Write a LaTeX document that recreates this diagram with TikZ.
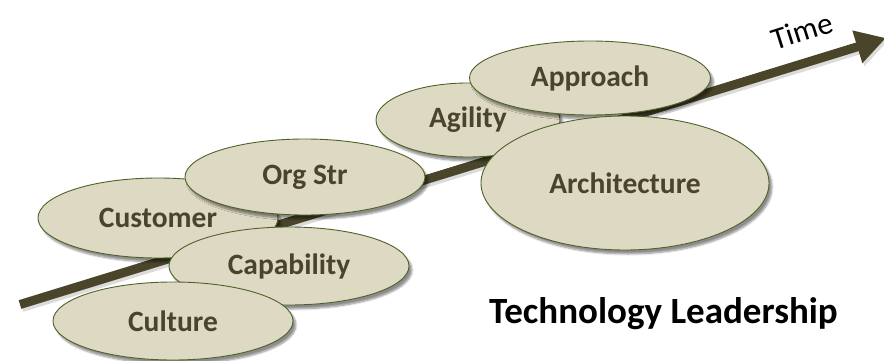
\documentclass[tikz,border=0pt]{standalone}
\usepackage{fontspec}
\setmainfont{Carlito}
\usetikzlibrary{arrows.meta,shapes.geometric,shadows.blur}
\definecolor{ellfill}{HTML}{DDD9C3}
\definecolor{elledge}{HTML}{4F6228}
\definecolor{elltext}{HTML}{4A442A}
\definecolor{axisc}{HTML}{4A452A}
\tikzset{
  topic/.style={ellipse, draw=elledge, line width=0.9pt, fill=ellfill, inner sep=0pt,
    text=elltext, font=\fontsize{29.5}{31}\selectfont\bfseries,
    blur shadow={shadow xshift=3pt, shadow yshift=-4pt, shadow blur steps=6, shadow opacity=45}},
  timeaxis/.style={draw=axisc, line width=9pt, -{Triangle[width=32pt,length=30pt]}},
}
\begin{document}
\begin{tikzpicture}[x=1pt,y=-1pt]
\useasboundingbox (0,0) rectangle (884,361);
\coordinate (tail) at (20,304.5);
\coordinate (tip) at (886,38);
\draw[draw=black!35, line width=9pt, -{Triangle[width=32pt,length=30pt]}, opacity=0.4] ([shift={(2,3)}]tail) -- ([shift={(2,3)}]tip);
\draw[timeaxis] (tail) -- (tip);
\node[topic, minimum width=240pt, minimum height=80pt] (customer) at (158,218) {Customer};
\node[topic, minimum width=240pt, minimum height=76pt] (orgstr) at (305,177) {Org Str};
\node[topic, minimum width=240pt, minimum height=78pt] (capability) at (289,266) {Capability};
\node[topic, minimum width=240pt, minimum height=78pt] (culture) at (173,321) {Culture};
\node[topic, minimum width=184pt, minimum height=74pt] (agility) at (468,120) {Agility};
\node[topic, minimum width=241pt, minimum height=74pt] (approach) at (590,78) {Approach};
\node[topic, minimum width=288pt, minimum height=134pt] (architecture) at (625,183) {Architecture};
\node[rotate=17.5, font=\fontsize{31}{33}\selectfont] (time) at (802,31) {Time};
\node[anchor=base, font=\fontsize{37}{39}\selectfont\bfseries] (title) at (663.5,323) {Technology Leadership};
\end{tikzpicture}
\end{document}
